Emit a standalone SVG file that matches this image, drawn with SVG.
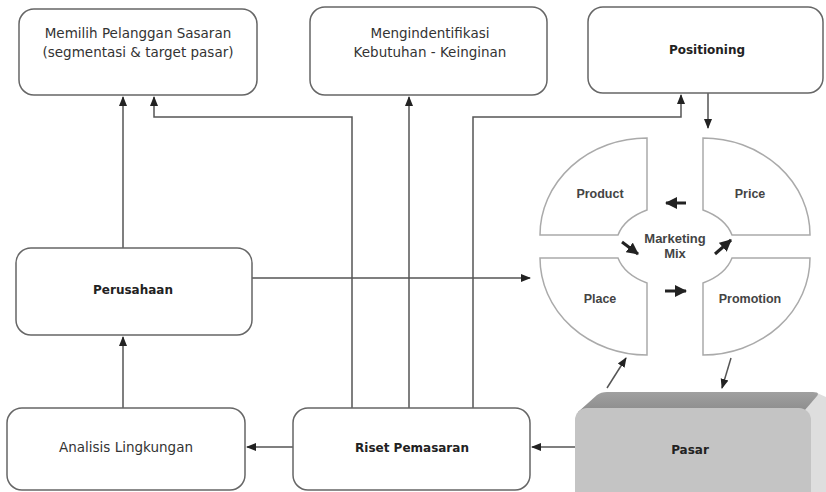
<svg xmlns="http://www.w3.org/2000/svg" width="826" height="492" viewBox="0 0 826 492">
<style>
.box{fill:#fff;stroke:#666;stroke-width:1.5}
.t{font-family:"DejaVu Sans",sans-serif;font-size:13.5px;fill:#333;text-anchor:middle}
.tb{font-family:"DejaVu Sans",sans-serif;font-size:12px;font-weight:bold;fill:#222;text-anchor:middle}
.q{fill:#fff;stroke:#aaa;stroke-width:1.5}
.mt{font-family:"Liberation Sans",Arial,sans-serif;font-size:12.5px;font-weight:bold;fill:#444;text-anchor:middle}
.c{fill:none;stroke:#555;stroke-width:1.5}
.k{fill:none;stroke:#222;stroke-width:3}
</style>
<defs>
<marker id="ah" markerUnits="userSpaceOnUse" markerWidth="10" markerHeight="10" viewBox="0 0 10 10" refX="9" refY="5" orient="auto">
<path d="M0,1 L10,5 L0,9 Z" fill="#222"/>
</marker>
<marker id="bh" markerUnits="userSpaceOnUse" markerWidth="12" markerHeight="12" viewBox="0 0 12 12" refX="11" refY="6" orient="auto">
<path d="M0,0 L12,6 L0,12 Z" fill="#222"/>
</marker>
<linearGradient id="topg" x1="0" y1="0" x2="0" y2="1">
<stop offset="0" stop-color="#a0a0a0"/><stop offset="1" stop-color="#8c8c8c"/>
</linearGradient>
</defs>

<g id="connectors">
<path class="c" d="M123,248 V97" marker-end="url(#ah)"/>
<path class="c" d="M123,408 V337" marker-end="url(#ah)"/>
<path class="c" d="M293,447 H247" marker-end="url(#ah)"/>
<path class="c" d="M575,447 H532" marker-end="url(#ah)"/>
<path class="c" d="M352,408 V117 H154 V97" marker-end="url(#ah)"/>
<path class="c" d="M409,408 V97" marker-end="url(#ah)"/>
<path class="c" d="M473,408 V117 H681 V95" marker-end="url(#ah)"/>
<path class="c" d="M708,93 V128" marker-end="url(#ah)"/>
<path class="c" d="M252,278 H530" marker-end="url(#ah)"/>
<path class="c" d="M731,358 L722,388" marker-end="url(#ah)"/>
<path class="c" d="M607,388 L626,358" marker-end="url(#ah)"/>
</g>

<g id="memilih">
<rect class="box" x="19" y="9" width="238" height="86" rx="15"/>
<text class="t" x="138" y="38">Memilih Pelanggan Sasaran</text>
<text class="t" x="138" y="57">(segmentasi &amp; target pasar)</text>
</g>
<g id="mengidentifikasi">
<rect class="box" x="310" y="7" width="237" height="88" rx="15"/>
<text class="t" x="430" y="38">Mengindentifikasi</text>
<text class="t" x="430" y="57">Kebutuhan - Keinginan</text>
</g>
<g id="positioning">
<rect class="box" x="588" y="7" width="235" height="86" rx="15"/>
<text class="tb" x="707" y="54">Positioning</text>
</g>
<g id="perusahaan">
<rect class="box" x="16" y="248" width="236" height="87" rx="15"/>
<text class="tb" x="133" y="294">Perusahaan</text>
</g>
<g id="analisis">
<rect class="box" x="7" y="408" width="238" height="82" rx="15"/>
<text class="t" x="126" y="452">Analisis Lingkungan</text>
</g>
<g id="riset">
<rect class="box" x="293" y="408" width="237" height="82" rx="15"/>
<text class="tb" x="412" y="452">Riset Pemasaran</text>
</g>
<g id="pasar">
<path d="M805,410 L817,393 L826,397 L826,492 L808,492 Z" fill="#dedede"/>
<path d="M578,412 L597,395 Q601,392 607,392 L813,392 Q820,392 817,396 L805,410 Z" fill="url(#topg)"/>
<rect x="575" y="408" width="236" height="100" rx="12" fill="#c4c4c4"/>
<text class="tb" x="690" y="454">Pasar</text>
</g>

<g id="marketing-mix">
<path class="q" d="M647,138 L647,210 A60 40 0 0 0 618,235 L540,235 A107 97 0 0 1 647,138 Z"/>
<path class="q" d="M703,138 A107 97 0 0 1 810,235 L732,235 A60 40 0 0 0 703,210 Z"/>
<path class="q" d="M540,258 L618,258 A60 40 0 0 0 647,283 L647,355 A107 97 0 0 1 540,258 Z"/>
<path class="q" d="M732,258 L810,258 A107 97 0 0 1 703,355 L703,283 A60 40 0 0 0 732,258 Z"/>
<text class="mt" x="600" y="198">Product</text>
<text class="mt" x="750" y="198">Price</text>
<text class="mt" x="600" y="303">Place</text>
<text class="mt" x="750" y="303">Promotion</text>
<text class="mt" x="675" y="243" style="font-size:13px">Marketing</text>
<text class="mt" x="675" y="258" style="font-size:13px">Mix</text>
<path class="k" d="M686,203 H666" marker-end="url(#bh)"/>
<path class="k" d="M622,242 L638,254" marker-end="url(#bh)"/>
<path class="k" d="M715,254 L731,240" marker-end="url(#bh)"/>
<path class="k" d="M665,291 H686" marker-end="url(#bh)"/>
</g>
</svg>
